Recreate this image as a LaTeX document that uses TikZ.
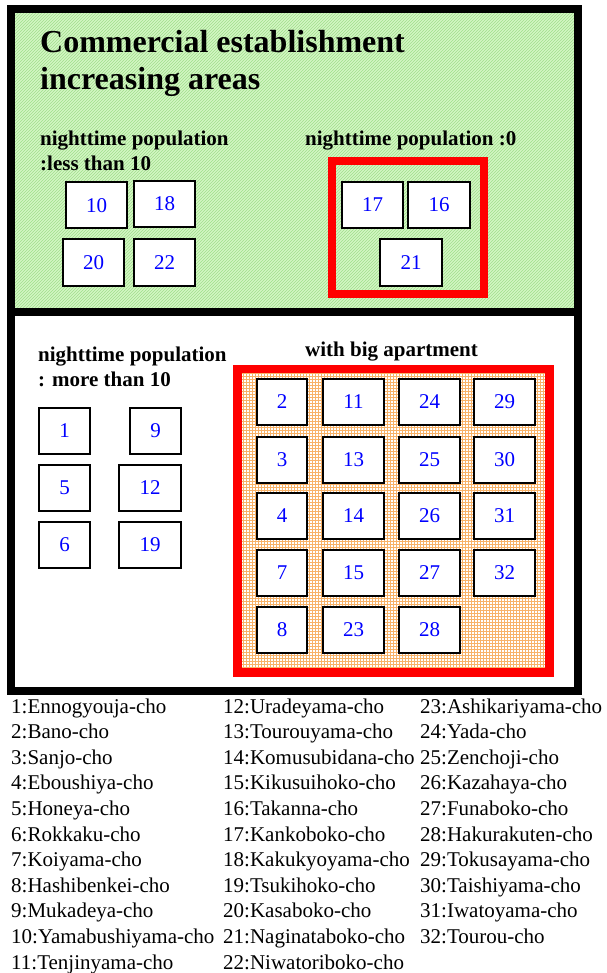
\documentclass[tikz,border=0pt]{standalone}
\usepackage{fontspec}
\setmainfont{Liberation Serif}
\usetikzlibrary{patterns}

\definecolor{panelgreen}{RGB}{212,246,196}
\definecolor{hatchgreen}{RGB}{160,222,140}
\definecolor{gridorange}{RGB}{248,178,104}
\definecolor{framered}{RGB}{255,0,0}
\definecolor{numblue}{RGB}{0,0,255}

\tikzset{
  panel/.style={draw=black, line width=8pt},
  redframe/.style={draw=framered, line width=8.5pt},
  cell/.style={draw=black, line width=2pt, fill=white, text=numblue,
    font=\fontsize{21}{25}\selectfont, minimum height=46pt, inner sep=0pt},
  heading/.style={font=\bfseries\fontsize{21}{25}\selectfont, anchor=base west, inner sep=0pt},
  titletext/.style={font=\bfseries\fontsize{32}{37}\selectfont, anchor=base west, inner sep=0pt},
  legend/.style={font=\fontsize{21}{25}\selectfont, anchor=base west, inner sep=0pt},
}

\begin{document}
\begin{tikzpicture}[x=1pt,y=-1pt]
\useasboundingbox (0,0) rectangle (606,973);
\fill[white] (0,0) rectangle (606,973);

% upper panel: green hatched background
\fill[panelgreen] (11,9) rectangle (578,312);
\fill[pattern=north east lines, pattern color=hatchgreen] (11,9) rectangle (578,312);
% lower panel
\fill[white] (11,312) rectangle (578,691);
\fill[white] (237.5,369) rectangle (549.5,672.5);
\fill[pattern=grid, pattern color=gridorange] (237.5,369) rectangle (549.5,672.5);

\draw[panel] (11,9) rectangle (578,312);
\draw[panel] (11,312) rectangle (578,691);

% red frames
\draw[redframe] (332,161) rectangle (484,294);
\draw[redframe] (237.5,369) rectangle (549.5,672.5);

% headings
\node[titletext] (title1) at (40,53) {Commercial establishment};
\node[titletext] (title2) at (40,90) {increasing areas};
\node[heading] (lessA) at (40,146) {nighttime population};
\node[heading] (lessB) at (40,171) {:less than 10};
\node[heading] (zero) at (305,146) {nighttime population :0};
\node[heading] (moreA) at (38,361) {nighttime population};
\node[heading] (moreB) at (38,386) {: more than 10};
\node[heading] (apt) at (305,356) {with big apartment};

% nighttime population less than 10
\node[cell, minimum width=61pt] (c10) at (96.5,205.5) {10};
\node[cell, minimum width=61pt] (c18) at (164.5,204) {18};
\node[cell, minimum width=61pt] (c20) at (93.5,262.5) {20};
\node[cell, minimum width=61pt] (c22) at (164.5,262.5) {22};

% nighttime population 0
\node[cell, minimum width=61pt] (c17) at (372.5,205) {17};
\node[cell, minimum width=62pt] (c16) at (439,205) {16};
\node[cell, minimum width=62pt] (c21) at (411,262.5) {21};

% nighttime population more than 10
\node[cell, minimum width=51pt] (c1) at (64.5,431) {1};
\node[cell, minimum width=51pt] (c9) at (155.5,431) {9};
\node[cell, minimum width=51pt] (c5) at (64.5,487.5) {5};
\node[cell, minimum width=62pt] (c12) at (150,487.5) {12};
\node[cell, minimum width=51pt] (c6) at (64.5,544.5) {6};
\node[cell, minimum width=62pt] (c19) at (150,544.5) {19};

% with big apartment
\node[cell, minimum width=50pt] (c2) at (282,402) {2};
\node[cell, minimum width=61pt] (c11) at (353.5,402) {11};
\node[cell, minimum width=61pt] (c24) at (429.5,402) {24};
\node[cell, minimum width=61pt] (c29) at (504.5,402) {29};
\node[cell, minimum width=50pt] (c3) at (282,459.5) {3};
\node[cell, minimum width=61pt] (c13) at (353.5,459.5) {13};
\node[cell, minimum width=61pt] (c25) at (429.5,459.5) {25};
\node[cell, minimum width=61pt] (c30) at (504.5,459.5) {30};
\node[cell, minimum width=50pt] (c4) at (282,515.5) {4};
\node[cell, minimum width=61pt] (c14) at (353.5,515.5) {14};
\node[cell, minimum width=61pt] (c26) at (429.5,515.5) {26};
\node[cell, minimum width=61pt] (c31) at (504.5,515.5) {31};
\node[cell, minimum width=50pt] (c7) at (282,573) {7};
\node[cell, minimum width=61pt] (c15) at (353.5,573) {15};
\node[cell, minimum width=61pt] (c27) at (429.5,573) {27};
\node[cell, minimum width=61pt] (c32) at (504.5,573) {32};
\node[cell, minimum width=50pt] (c8) at (282,629.5) {8};
\node[cell, minimum width=61pt] (c23) at (353.5,629.5) {23};
\node[cell, minimum width=61pt] (c28) at (429.5,629.5) {28};

% key of area names, three columns of eleven rows
\foreach \t [count=\i] in {Ennogyouja,Bano,Sanjo,Eboushiya,Honeya,Rokkaku,Koiyama,
  Hashibenkei,Mukadeya,Yamabushiyama,Tenjinyama,Uradeyama,Tourouyama,Komusubidana,
  Kikusuihoko,Takanna,Kankoboko,Kakukyoyama,Tsukihoko,Kasaboko,Naginataboko,
  Niwatoriboko,Ashikariyama,Yada,Zenchoji,Kazahaya,Funaboko,Hakurakuten,
  Tokusayama,Taishiyama,Iwatoyama,Tourou}{
  \pgfmathtruncatemacro{\col}{div(\i-1,11)}
  \pgfmathtruncatemacro{\row}{mod(\i-1,11)}
  \pgfmathsetmacro{\lx}{ifthenelse(\col==0,11,ifthenelse(\col==1,223,420))}
  \node[legend] (key\i) at (\lx,713+25.6*\row) {\i:\t-cho};
}
\end{tikzpicture}
\end{document}
